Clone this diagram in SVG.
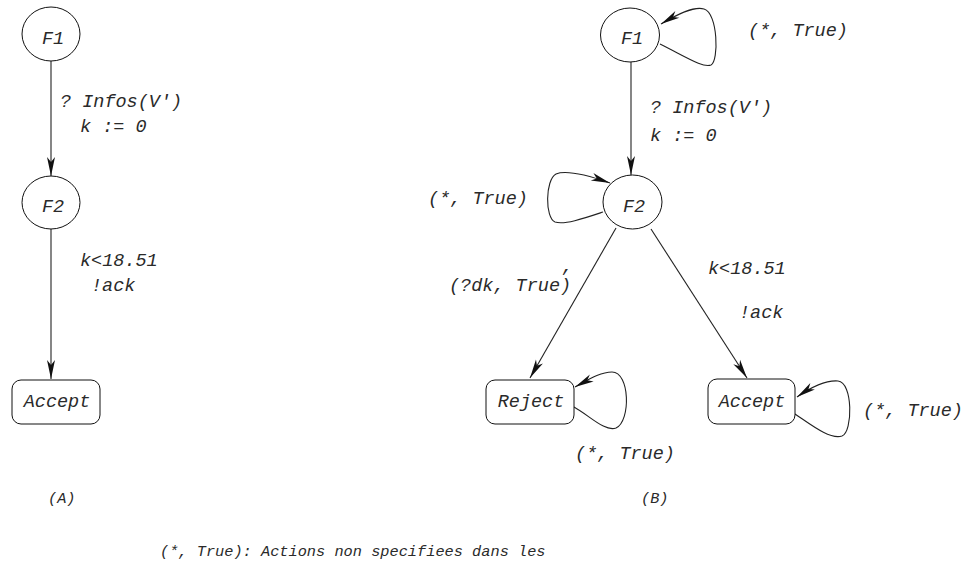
<svg xmlns="http://www.w3.org/2000/svg" width="969" height="563" viewBox="0 0 969 563">
<style>
text{font-family:"Liberation Mono","Courier New",monospace;font-style:italic;font-size:18.5px;fill:#2a2a2a}
.n{text-anchor:middle}
.shape{fill:#fff;stroke:#111;stroke-width:1}
.edge{fill:none;stroke:#222;stroke-width:1.1;marker-end:url(#arr)}
.small{font-size:15.3px}
</style>
<defs>
<marker id="arr" markerUnits="userSpaceOnUse" markerWidth="24" markerHeight="12" viewBox="-20 -6 22 12" refX="0" refY="0" orient="auto">
<path d="M0,0 L-19,-4 L-14,0 L-19,4 Z" fill="#111"/>
</marker>
</defs>
<g id="connectors">
<path class="edge" d="M51,61 L51,176"/>
<path class="edge" d="M51,229 L51,379"/>
<path class="edge" d="M631,62 L631,175"/>
<path class="edge" d="M660,44 C688,58 703,68 711,65 C719,61 718,13 704,9 C694,6 678,14 661,24"/>
<path class="edge" d="M603,212 C585,218 565,225 555,222 C545,218 545,180 556,174 C566,170 590,176 610,183"/>
<path class="edge" d="M616,228 L530,378"/>
<path class="edge" d="M651,229 L747,378"/>
<path class="edge" d="M574,407 C590,416 605,432 616,428 C631,421 630,372 612,372 C600,372 588,380 575,387"/>
<path class="edge" d="M795,414 C810,424 830,440 842,436 C853,432 853,382 838,381 C825,380 810,388 797,397"/>
</g>
<g id="A_F1"><ellipse class="shape" cx="51" cy="34" rx="29" ry="27"/><text class="n" x="53" y="44">F1</text></g>
<g id="A_F2"><ellipse class="shape" cx="51" cy="202.5" rx="29" ry="26.5"/><text class="n" x="53" y="212">F2</text></g>
<g id="A_Accept"><rect class="shape" x="12" y="380" width="88" height="44" rx="9"/><text class="n" x="57" y="407">Accept</text></g>
<g id="B_F1"><ellipse class="shape" cx="630" cy="35" rx="29.5" ry="27"/><text class="n" x="632" y="44">F1</text></g>
<g id="B_F2"><ellipse class="shape" cx="632.5" cy="202" rx="29.5" ry="27"/><text class="n" x="634" y="212">F2</text></g>
<g id="B_Reject"><rect class="shape" x="486" y="380" width="88" height="44" rx="9"/><text class="n" x="531" y="407">Reject</text></g>
<g id="B_Accept"><rect class="shape" x="708" y="379" width="87" height="45" rx="9"/><text class="n" x="752" y="407">Accept</text></g>
<g id="labels">
<text x="60" y="107">? Infos(V')</text>
<text x="80" y="132">k := 0</text>
<text x="80" y="266">k&lt;18.51</text>
<text x="91" y="291">!ack</text>
<text x="650" y="113">? Infos(V')</text>
<text x="650" y="141">k := 0</text>
<text x="748" y="36">(*, True)</text>
<text x="428" y="204">(*, True)</text>
<text x="449" y="291">(?dk, True)</text>
<text x="562" y="272">,</text>
<text x="708" y="274">k&lt;18.51</text>
<text x="739" y="318">!ack</text>
<text x="575" y="459">(*, True)</text>
<text x="863" y="416">(*, True)</text>
<text class="small" x="48" y="503">(A)</text>
<text class="small" x="641" y="503">(B)</text>
<text class="small" x="160" y="556">(*, True): Actions non specifiees dans les</text>
</g>
</svg>
